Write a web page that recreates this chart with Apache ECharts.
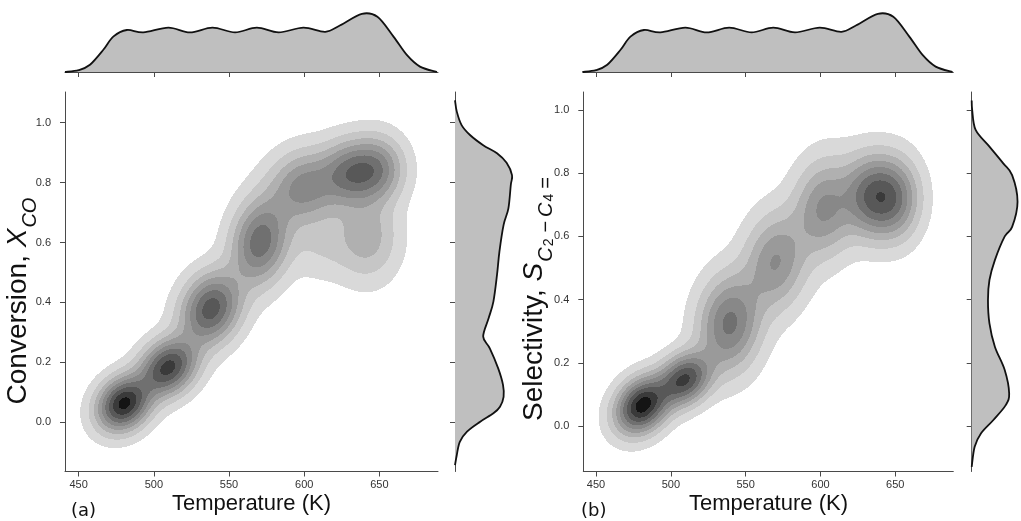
<!DOCTYPE html>
<html><head><meta charset="utf-8">
<script src="https://cdn.jsdelivr.net/npm/echarts@6/dist/echarts.min.js"></script>
<style>html,body{margin:0;padding:0;background:#fff}#c{width:1021px;height:521px}</style>
</head><body><div id="c"></div>
<script>
// ---------------- data ----------------
const tempTicks = [450, 500, 550, 600, 650];
const fracTicks = [0.0, 0.2, 0.4, 0.6, 0.8, 1.0];

// top marginal: temperature density (relative)
const margT     = [440.9, 450, 457.5, 466.4, 473, 482, 493, 509.7, 524, 539, 554, 568.5, 583, 599.5, 614, 624, 638.4, 648.7, 659.4, 668.4, 677, 688.3];
const margTDens = [0, 0.03, 0.12, 0.37, 0.59, 0.70, 0.66, 0.74, 0.66, 0.74, 0.66, 0.74, 0.66, 0.74, 0.67, 0.78, 0.97, 0.92, 0.59, 0.28, 0.09, 0];

// right marginal (a): conversion density (relative)
const margXVals = [-0.143, -0.109, -0.065, -0.031, 0.002, 0.03, 0.052, 0.085, 0.125, 0.18, 0.247, 0.286, 0.347, 0.403, 0.492, 0.569, 0.659, 0.714, 0.792, 0.825, 0.866, 0.898, 0.925, 0.959, 0.992, 1.037, 1.075];
const margXDens = [0, 0.03, 0.08, 0.2, 0.42, 0.64, 0.75, 0.81, 0.8, 0.72, 0.58, 0.47, 0.56, 0.64, 0.7, 0.74, 0.81, 0.89, 0.93, 0.95, 0.86, 0.7, 0.47, 0.25, 0.11, 0.03, 0];

// right marginal (b): selectivity density (relative)
const margSVals = [-0.129, -0.066, -0.023, 0.019, 0.066, 0.103, 0.177, 0.251, 0.325, 0.399, 0.462, 0.525, 0.6, 0.63, 0.71, 0.794, 0.831, 0.884, 0.937, 1.0, 1.03];
const margSDens = [0, 0.06, 0.19, 0.44, 0.69, 0.76, 0.67, 0.47, 0.36, 0.33, 0.36, 0.47, 0.67, 0.82, 0.93, 0.82, 0.64, 0.36, 0.08, 0.01, 0];

// joint density blobs (a): temperature, conversion, spreads, correlation, peak height
const aBlobT   = [480,   509.5, 538,   570.7, 600.7, 630,   648,   642,   612];
const aBlobV   = [0.063, 0.184, 0.38,  0.603, 0.786, 0.83,  0.845, 0.62,  0.6];
const aBlobSdT = [11,    12,    12.5,  12,    15,    11.5,  11.5,  13,    15];
const aBlobSdV = [0.056, 0.06,  0.075, 0.09,  0.075, 0.068, 0.068, 0.09,  0.075];
const aBlobRho = [0.2,   0.25,  0.2,   0.15,  0.1,   0,     0,     0,     0];
const aBlobAmp = [0.97,  0.84,  0.72,  0.6,   0.46,  0.47,  0.47,  0.24,  0.1];

// joint density blobs (b): temperature, selectivity, spreads, correlation, peak height
const bBlobT   = [481,   509.3, 539.4, 570.2, 603,   633,   649];
const bBlobV   = [0.066, 0.148, 0.325, 0.52,  0.69,  0.728, 0.722];
const bBlobSdT = [11,    11,    13,    13,    13,    11,    11];
const bBlobSdV = [0.055, 0.052, 0.095, 0.095, 0.095, 0.08,  0.08];
const bBlobRho = [0.25,  0.25,  0.1,   0.1,   0.1,   0,     0];
const bBlobAmp = [1.0,   0.8,   0.55,  0.4,   0.42,  0.52,  0.52];

// contour levels and fills
const levels     = [0.03, 0.10, 0.19, 0.29, 0.40, 0.52, 0.65, 0.79, 0.93];
const bandColors = ['#d9d9d9', '#c6c6c6', '#b0b0b0', '#9a9a9a', '#888888', '#707070', '#585858', '#3a3a3a', '#141414'];

// ---------------- helpers ----------------
function makeBlobs(T, V, sT, sV, rho, amp) {
  return T.map((t, i) => ({ t, v: V[i], st: sT[i], sv: sV[i], r: rho[i], a: amp[i] }));
}
const aBlobs = makeBlobs(aBlobT, aBlobV, aBlobSdT, aBlobSdV, aBlobRho, aBlobAmp);
const bBlobs = makeBlobs(bBlobT, bBlobV, bBlobSdT, bBlobSdV, bBlobRho, bBlobAmp);

function density(blobs, t, v) {
  let s = 0;
  for (const b of blobs) {
    const z1 = (t - b.t) / b.st, z2 = (v - b.v) / b.sv;
    const q = (z1 * z1 - 2 * b.r * z1 * z2 + z2 * z2) / (1 - b.r * b.r);
    s += b.a * Math.exp(-0.5 * q);
  }
  return s;
}
function bandOf(d) {
  let k = -1;
  for (let i = 0; i < levels.length; i++) if (d >= levels[i]) k = i;
  return k;
}

function contourRender(blobs, xr, yr, nx, ny) {
  return function (params, api) {
    if (params.dataIndex !== 0) return;
    const dT = (xr[1] - xr[0]) / nx, dV = (yr[1] - yr[0]) / ny;
    const xEdge = [], yEdge = [];
    for (let i = 0; i <= nx; i++) xEdge.push(Math.round(api.coord([xr[0] + i * dT, yr[0]])[0]));
    for (let j = 0; j <= ny; j++) yEdge.push(Math.round(api.coord([xr[0], yr[0] + j * dV])[1]));
    const children = [];
    for (let j = 0; j < ny; j++) {
      const v = yr[0] + (j + 0.5) * dV;
      let runStart = 0, runBand = -1;
      for (let i = 0; i <= nx; i++) {
        let band = -1;
        if (i < nx) band = bandOf(density(blobs, xr[0] + (i + 0.5) * dT, v));
        if (band !== runBand) {
          if (runBand >= 0 && xEdge[i] > xEdge[runStart] && yEdge[j] > yEdge[j + 1]) {
            children.push({
              type: 'rect', silent: true,
              shape: { x: xEdge[runStart], y: yEdge[j + 1], width: xEdge[i] - xEdge[runStart], height: yEdge[j] - yEdge[j + 1] },
              style: { fill: bandColors[runBand] }
            });
          }
          runStart = i; runBand = band;
        }
      }
    }
    return { type: 'group', children };
  };
}

function splinePath(pts) {
  let d = 'M' + pts[0][0] + ',' + pts[0][1];
  const n = pts.length;
  for (let i = 0; i < n - 1; i++) {
    const p0 = pts[Math.max(0, i - 1)], p1 = pts[i], p2 = pts[i + 1], p3 = pts[Math.min(n - 1, i + 2)];
    const c1x = p1[0] + (p2[0] - p0[0]) / 6, c1y = p1[1] + (p2[1] - p0[1]) / 6;
    const c2x = p2[0] - (p3[0] - p1[0]) / 6, c2y = p2[1] - (p3[1] - p1[1]) / 6;
    d += ' C' + c1x + ',' + c1y + ' ' + c2x + ',' + c2y + ' ' + p2[0] + ',' + p2[1];
  }
  return d;
}
function marginRender(xs, ys) {
  return function (params, api) {
    if (params.dataIndex !== 0) return;
    const pts = xs.map((x, i) => api.coord([x, ys[i]]));
    const curve = splinePath(pts);
    return {
      type: 'group', silent: true, children: [
        { type: 'path', shape: { pathData: curve + ' Z' }, style: { fill: '#bfbfbf', stroke: null } },
        { type: 'path', shape: { pathData: curve }, style: { fill: null, stroke: '#111111', lineWidth: 1.8 } }
      ]
    };
  };
}

// ---------------- layout ----------------
const axisCol = '#4a4a4a';
const tickFont = 'Liberation Sans, Arial, sans-serif';
const A = { left: 65, width: 373, xr: [440.9, 689], yr: [-0.1642, 1.1025], rightLeft: 455 };
const B = { left: 583.3, width: 370, xr: [441.5, 688.8], yr: [-0.144, 1.057], rightLeft: 971.7 };
const mainTop = 92, mainH = 379.5, topTop = 12, topH = 60;

function lineAxis() { return { show: true, onZero: false, lineStyle: { color: axisCol, width: 1 } }; }
function mainX(idx, P) {
  return { gridIndex: idx, type: 'value', min: P.xr[0], max: P.xr[1],
    axisLine: lineAxis(),
    axisTick: { show: true, length: 5, lineStyle: { color: axisCol }, customValues: tempTicks },
    axisLabel: { show: true, customValues: tempTicks, fontSize: 11, color: '#333', margin: 8, fontFamily: tickFont },
    splitLine: { show: false } };
}
function mainY(idx, P) {
  return { gridIndex: idx, type: 'value', min: P.yr[0], max: P.yr[1],
    axisLine: lineAxis(),
    axisTick: { show: true, length: 5, lineStyle: { color: axisCol }, customValues: fracTicks },
    axisLabel: { show: true, customValues: fracTicks, fontSize: 11, color: '#333', margin: 14, fontFamily: tickFont,
      formatter: v => Number(v).toFixed(1) },
    splitLine: { show: false } };
}
function topX(idx, P) {
  return { gridIndex: idx, type: 'value', min: P.xr[0], max: P.xr[1],
    axisLine: lineAxis(),
    axisTick: { show: true, length: 5, lineStyle: { color: axisCol }, customValues: tempTicks },
    axisLabel: { show: false }, splitLine: { show: false } };
}
function hiddenVal(idx) {
  return { gridIndex: idx, type: 'value', min: 0, max: 1, show: false, splitLine: { show: false } };
}
function rightY(idx, P) {
  return { gridIndex: idx, type: 'value', min: P.yr[0], max: P.yr[1],
    axisLine: lineAxis(),
    axisTick: { show: true, length: 5, lineStyle: { color: axisCol }, customValues: fracTicks },
    axisLabel: { show: false }, splitLine: { show: false } };
}

const grids = [
  { left: A.left, top: mainTop, width: A.width, height: mainH },
  { left: A.left, top: topTop, width: A.width, height: topH },
  { left: A.rightLeft, top: mainTop, width: 60, height: mainH },
  { left: B.left, top: mainTop, width: B.width, height: mainH },
  { left: B.left, top: topTop, width: B.width, height: topH },
  { left: B.rightLeft, top: mainTop, width: 60, height: mainH }
];

const labelFont = 'Liberation Sans, Arial, sans-serif';
function richY(F) {
  const fs = Math.round(F * 0.7), fss = Math.round(F * 0.5);
  return {
    n: { fontSize: F, fontFamily: labelFont, lineHeight: 36, verticalAlign: 'top', fill: '#111' },
    i: { fontSize: F, fontFamily: labelFont, fontStyle: 'italic', lineHeight: 36, verticalAlign: 'top', fill: '#111', padding: [0, 1, 0, 0] },
    s: { fontSize: fs, fontFamily: labelFont, fontStyle: 'italic', lineHeight: 20, verticalAlign: 'bottom', fill: '#111' },
    m: { fontSize: fs, fontFamily: labelFont, lineHeight: 20, verticalAlign: 'bottom', fill: '#111', padding: [0, 4, 0, 4] },
    e: { fontSize: fs, fontFamily: labelFont, lineHeight: 20, verticalAlign: 'bottom', fill: '#111', padding: [0, 0, 0, 3] },
    ss: { fontSize: fss, fontFamily: labelFont, lineHeight: 8, verticalAlign: 'bottom', fill: '#111', padding: [0, 2, 0, 1] }
  };
}

const option = {
  animation: false,
  backgroundColor: '#ffffff',
  grid: grids,
  xAxis: [mainX(0, A), topX(1, A), hiddenVal(2), mainX(3, B), topX(4, B), hiddenVal(5)],
  yAxis: [mainY(0, A), hiddenVal(1), rightY(2, A), mainY(3, B), hiddenVal(4), rightY(5, B)],
  series: [
    { type: 'custom', xAxisIndex: 0, yAxisIndex: 0, silent: true, data: [[560, 0.5]],
      renderItem: contourRender(aBlobs, A.xr, A.yr, 373, 380) },
    { type: 'custom', xAxisIndex: 1, yAxisIndex: 1, silent: true, data: [[560, 0.5]],
      renderItem: marginRender(margT, margTDens) },
    { type: 'custom', xAxisIndex: 2, yAxisIndex: 2, silent: true, data: [[0.5, 0.5]],
      renderItem: marginRender(margXDens, margXVals) },
    { type: 'custom', xAxisIndex: 3, yAxisIndex: 3, silent: true, data: [[560, 0.5]],
      renderItem: contourRender(bBlobs, B.xr, B.yr, 370, 380) },
    { type: 'custom', xAxisIndex: 4, yAxisIndex: 4, silent: true, data: [[560, 0.5]],
      renderItem: marginRender(margT, margTDens) },
    { type: 'custom', xAxisIndex: 5, yAxisIndex: 5, silent: true, data: [[0.5, 0.5]],
      renderItem: marginRender(margSDens, margSVals) }
  ],
  graphic: [
    { type: 'text', x: 251.5, y: 504, style: { text: 'Temperature (K)', font: '22px ' + labelFont, fill: '#111', align: 'center', verticalAlign: 'middle' } },
    { type: 'text', x: 768.5, y: 504, style: { text: 'Temperature (K)', font: '22px ' + labelFont, fill: '#111', align: 'center', verticalAlign: 'middle' } },
    { type: 'text', x: 71, y: 511, style: { text: '(a)', font: '18px DejaVu Sans, sans-serif', fill: '#111', align: 'left', verticalAlign: 'middle' } },
    { type: 'text', x: 581, y: 511, style: { text: '(b)', font: '18px DejaVu Sans, sans-serif', fill: '#111', align: 'left', verticalAlign: 'middle' } },
    { type: 'text', x: 22, y: 301, rotation: Math.PI / 2,
      style: { text: '{n|Conversion, }{i|X}{s|CO}', rich: richY(28), align: 'center', verticalAlign: 'middle' } },
    { type: 'text', x: 538, y: 299, rotation: Math.PI / 2,
      style: { text: '{n|Selectivity, }{i|S}{s|C}{ss|2}{m|−}{s|C}{ss|4}{e|=}', rich: richY(28), align: 'center', verticalAlign: 'middle' } }
  ]
};

const chart = echarts.init(document.getElementById('c'), null, { renderer: 'canvas' });
chart.setOption(option);
</script>
</body></html>
